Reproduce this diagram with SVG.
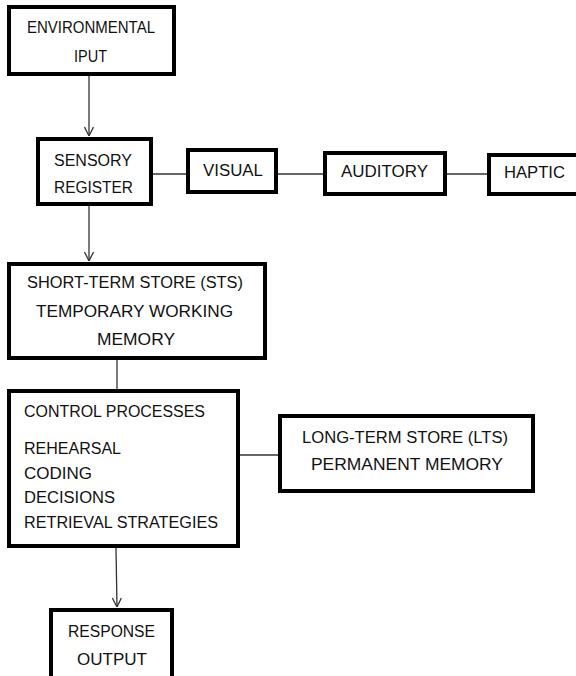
<svg xmlns="http://www.w3.org/2000/svg" width="576" height="676" viewBox="0 0 576 676">
<defs>
<style>
.box{fill:#fff;stroke:#000;stroke-width:4}
.t{font-family:"Liberation Sans",Arial,sans-serif;font-size:16px;fill:#111}
.c{stroke:#333;stroke-width:1.3;fill:none}
</style>
<marker id="ah" viewBox="0 0 10 10" refX="10" refY="5" markerWidth="10" markerHeight="10" markerUnits="userSpaceOnUse" orient="auto">
<path d="M1,0.5 L10,5 L1,9.5" fill="none" stroke="#333" stroke-width="1.3"/>
</marker>
</defs>
<rect width="576" height="676" fill="#fff"/>
<g id="connectors">
<line class="c" x1="89" y1="76" x2="89" y2="136" marker-end="url(#ah)"/>
<line class="c" x1="89" y1="206" x2="89" y2="261" marker-end="url(#ah)"/>
<line class="c" x1="117" y1="360" x2="117" y2="389"/>
<line class="c" x1="116" y1="548" x2="117" y2="607" marker-end="url(#ah)"/>
<line class="c" x1="153" y1="174" x2="186" y2="174"/>
<line class="c" x1="278" y1="174" x2="323" y2="174"/>
<line class="c" x1="447" y1="174" x2="487" y2="174"/>
<line class="c" x1="240" y1="455" x2="278" y2="455"/>
</g>
<g id="env">
<rect class="box" x="9" y="7" width="165" height="67"/>
<text class="t" x="27" y="33" textLength="128" lengthAdjust="spacingAndGlyphs">ENVIRONMENTAL</text>
<text class="t" x="74" y="62" textLength="33" lengthAdjust="spacingAndGlyphs">IPUT</text>
</g>
<g id="sensory">
<rect class="box" x="38" y="139" width="113" height="65"/>
<text class="t" x="54" y="166" textLength="78" lengthAdjust="spacingAndGlyphs">SENSORY</text>
<text class="t" x="54" y="193" textLength="79" lengthAdjust="spacingAndGlyphs">REGISTER</text>
</g>
<g id="visual">
<rect class="box" x="188" y="150" width="88" height="42"/>
<text class="t" x="203" y="176" textLength="60" lengthAdjust="spacingAndGlyphs">VISUAL</text>
</g>
<g id="auditory">
<rect class="box" x="325" y="153" width="120" height="41"/>
<text class="t" x="341" y="177" textLength="87" lengthAdjust="spacingAndGlyphs">AUDITORY</text>
</g>
<g id="haptic">
<rect class="box" x="489" y="155" width="100" height="39"/>
<text class="t" x="504" y="178" textLength="61" lengthAdjust="spacingAndGlyphs">HAPTIC</text>
</g>
<g id="sts">
<rect class="box" x="9" y="264" width="256" height="94"/>
<text class="t" x="27" y="288" textLength="216" lengthAdjust="spacingAndGlyphs">SHORT-TERM STORE (STS)</text>
<text class="t" x="36" y="317" textLength="197" lengthAdjust="spacingAndGlyphs">TEMPORARY WORKING</text>
<text class="t" x="97" y="345" textLength="78" lengthAdjust="spacingAndGlyphs">MEMORY</text>
</g>
<g id="control">
<rect class="box" x="9" y="391" width="229" height="155"/>
<text class="t" x="24" y="417" textLength="181" lengthAdjust="spacingAndGlyphs">CONTROL PROCESSES</text>
<text class="t" x="24" y="454" textLength="97" lengthAdjust="spacingAndGlyphs">REHEARSAL</text>
<text class="t" x="24" y="479" textLength="68" lengthAdjust="spacingAndGlyphs">CODING</text>
<text class="t" x="24" y="503" textLength="91" lengthAdjust="spacingAndGlyphs">DECISIONS</text>
<text class="t" x="24" y="528" textLength="194" lengthAdjust="spacingAndGlyphs">RETRIEVAL STRATEGIES</text>
</g>
<g id="lts">
<rect class="box" x="280" y="416" width="253" height="75"/>
<text class="t" x="302" y="443" textLength="206" lengthAdjust="spacingAndGlyphs">LONG-TERM STORE (LTS)</text>
<text class="t" x="311" y="470" textLength="192" lengthAdjust="spacingAndGlyphs">PERMANENT MEMORY</text>
</g>
<g id="response">
<rect class="box" x="51" y="610" width="121" height="80"/>
<text class="t" x="68" y="637" textLength="87" lengthAdjust="spacingAndGlyphs">RESPONSE</text>
<text class="t" x="77" y="665" textLength="70" lengthAdjust="spacingAndGlyphs">OUTPUT</text>
</g>
</svg>
